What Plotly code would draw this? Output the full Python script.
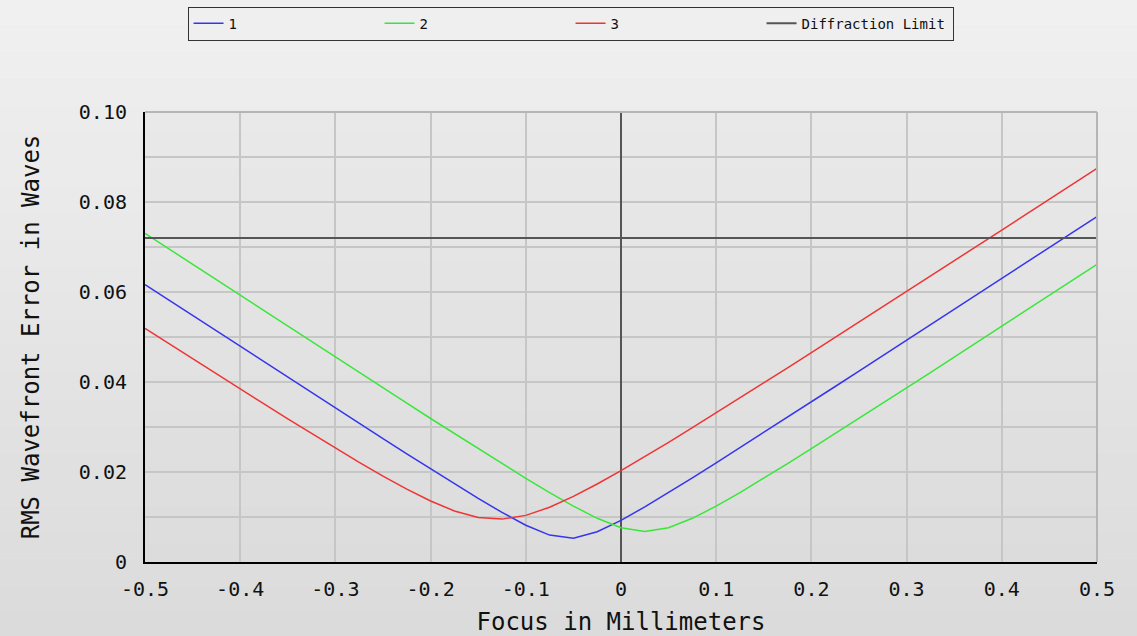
import plotly.graph_objects as go

focus = [-0.5, -0.475, -0.45, -0.425, -0.4, -0.375, -0.35, -0.325, -0.3, -0.275,
         -0.25, -0.225, -0.2, -0.175, -0.15, -0.125, -0.1, -0.075, -0.05, -0.025,
         0.0, 0.025, 0.05, 0.075, 0.1, 0.125, 0.15, 0.175, 0.2, 0.225,
         0.25, 0.275, 0.3, 0.325, 0.35, 0.375, 0.4, 0.425, 0.45, 0.475, 0.5]

rms_1 = [0.06164, 0.0582, 0.05477, 0.05134, 0.0479, 0.04448, 0.04106, 0.03764, 0.03422, 0.03082,
         0.02743, 0.02405, 0.0207, 0.01739, 0.01414, 0.01102, 0.00817, 0.00598, 0.0053, 0.00673,
         0.00926, 0.01225, 0.01543, 0.01871, 0.02204, 0.0254, 0.02878, 0.03218, 0.03559, 0.039,
         0.04242, 0.04585, 0.04928, 0.05271, 0.05614, 0.05958, 0.06301, 0.06645, 0.06989, 0.07333, 0.07677]

rms_2 = [0.07303, 0.06958, 0.06614, 0.0627, 0.05925, 0.05582, 0.05238, 0.04896, 0.04552, 0.0421,
         0.03869, 0.03529, 0.03189, 0.02852, 0.02518, 0.02186, 0.0186, 0.01543, 0.01242, 0.00971,
         0.00763, 0.0068, 0.00763, 0.00971, 0.01242, 0.01543, 0.0186, 0.02186, 0.02518, 0.02852,
         0.03189, 0.03529, 0.03869, 0.0421, 0.04552, 0.04896, 0.05238, 0.05582, 0.05925, 0.0627, 0.06614]

rms_3 = [0.05194, 0.04855, 0.04517, 0.0418, 0.03845, 0.03512, 0.03181, 0.02854, 0.02531, 0.02215,
         0.01909, 0.01619, 0.01355, 0.01135, 0.00989, 0.00953, 0.01036, 0.01216, 0.01457, 0.01733,
         0.0203, 0.0234, 0.0266, 0.02984, 0.03313, 0.03645, 0.03979, 0.04315, 0.04653, 0.04991,
         0.0533, 0.0567, 0.0601, 0.06351, 0.06692, 0.07034, 0.07376, 0.07718, 0.0806, 0.08403, 0.08746]

limit_x = [-0.5, 0.5]
limit_y = [0.072, 0.072]

x_ticks = [-0.5, -0.4, -0.3, -0.2, -0.1, 0.0, 0.1, 0.2, 0.3, 0.4, 0.5]
x_labels = ["-0.5", "-0.4", "-0.3", "-0.2", "-0.1", "0", "0.1", "0.2", "0.3", "0.4", "0.5"]
y_ticks = [0.0, 0.02, 0.04, 0.06, 0.08, 0.10]
y_labels = ["0", "0.02", "0.04", "0.06", "0.08", "0.10"]

FONT = "DejaVu Sans Mono"

fig = go.Figure()
fig.add_trace(go.Scatter(x=focus, y=rms_1, mode="lines", name="1",
                         line=dict(color="#3535ee", width=1.5)))
fig.add_trace(go.Scatter(x=focus, y=rms_2, mode="lines", name="2",
                         line=dict(color="#3ae63a", width=1.5)))
fig.add_trace(go.Scatter(x=focus, y=rms_3, mode="lines", name="3",
                         line=dict(color="#ee3535", width=1.5)))
fig.add_trace(go.Scatter(x=limit_x, y=limit_y, mode="lines", name="Diffraction Limit",
                         line=dict(color="#555555", width=2)))

# background gradients (style only)
shapes = []
n = 24
top_c = (240, 240, 240)
bot_c = (219, 219, 219)
y_top, y_bot = 1.25, -0.17
for i in range(n):
    t = i / (n - 1)
    c = tuple(int(round(top_c[k] + (bot_c[k] - top_c[k]) * t)) for k in range(3))
    y1 = y_top - (y_top - y_bot) * i / n
    y0 = y_top - (y_top - y_bot) * (i + 1) / n
    shapes.append(dict(type="rect", xref="paper", yref="paper", x0=-0.2, x1=1.1,
                       y0=y0, y1=y1, fillcolor="rgb(%d,%d,%d)" % c,
                       line=dict(width=0), layer="below"))
ptop = (233, 233, 233)
pbot = (220, 220, 220)
for i in range(n):
    t = i / (n - 1)
    c = tuple(int(round(ptop[k] + (pbot[k] - ptop[k]) * t)) for k in range(3))
    y1 = 1 - i / n
    y0 = 1 - (i + 1) / n
    shapes.append(dict(type="rect", xref="paper", yref="paper", x0=0, x1=1,
                       y0=y0, y1=y1, fillcolor="rgb(%d,%d,%d)" % c,
                       line=dict(width=0), layer="below"))

fig.update_layout(
    width=1137, height=636,
    margin=dict(l=145, r=40, t=112, b=74, autoexpand=False),
    paper_bgcolor="#e6e6e6",
    plot_bgcolor="rgba(0,0,0,0)",
    font=dict(family=FONT, color="#111111"),
    shapes=shapes,
    showlegend=True,
    legend=dict(orientation="h", x=0.447, xanchor="center", y=1.234, yanchor="top",
                bgcolor="#efefef", bordercolor="#333333", borderwidth=1,
                font=dict(family=FONT, size=14, color="#111111"),
                entrywidth=146, entrywidthmode="pixels",
                itemwidth=30, tracegroupgap=0),
    xaxis=dict(range=[-0.5, 0.5], tickvals=x_ticks, ticktext=x_labels,
               tickfont=dict(family=FONT, size=20, color="#111111"),
               showgrid=True, gridcolor="#c6c6c6", gridwidth=2,
               zeroline=True, zerolinecolor="#555555", zerolinewidth=2,
               showline=True, linecolor="#000000", linewidth=2, mirror=False,
               ticks="", ticklabelstandoff=8,
               title=dict(text="Focus in Millimeters", standoff=16,
                          font=dict(family=FONT, size=24, color="#111111"))),
    yaxis=dict(range=[0, 0.10], tickvals=y_ticks, ticktext=y_labels,
               tickfont=dict(family=FONT, size=20, color="#111111"),
               showgrid=True, gridcolor="#c6c6c6", gridwidth=2,
               minor=dict(dtick=0.01, showgrid=True, gridcolor="#c6c6c6", gridwidth=2),
               zeroline=False,
               showline=True, linecolor="#000000", linewidth=2,
               ticks="", ticklabelstandoff=12,
               title=dict(text="RMS Wavefront Error in Waves", standoff=32,
                          font=dict(family=FONT, size=24, color="#111111"))),
)
# top/right borders
fig.add_shape(type="line", xref="paper", yref="paper", x0=0, x1=1, y0=1, y1=1,
              line=dict(color="#b5b5b5", width=2))
fig.add_shape(type="line", xref="paper", yref="paper", x0=1, x1=1, y0=0, y1=1,
              line=dict(color="#b5b5b5", width=2))

fig.write_html("out.html", config={"displayModeBar": False},
               post_script="document.body.style.margin='0';document.body.style.background='#e6e6e6';")
